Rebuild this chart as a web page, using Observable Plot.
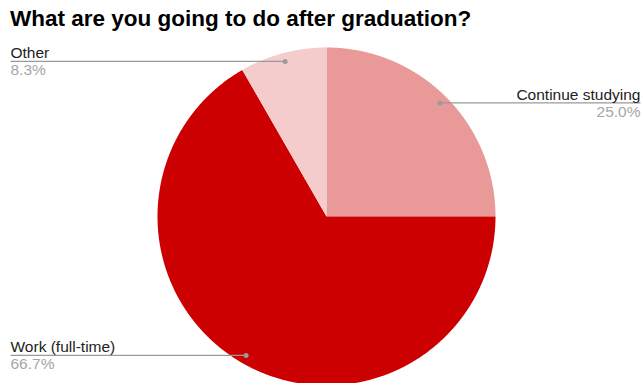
<!DOCTYPE html>
<html><head><meta charset="utf-8">
<script src="https://cdn.jsdelivr.net/npm/d3@7"></script>
<script src="https://cdn.jsdelivr.net/npm/@observablehq/plot@0.6"></script>
<style>
html,body{margin:0;padding:0;background:#fff;overflow:hidden;width:641px;height:383px}
#title{height:34px;padding:6px 0 0 10px;font:bold 22.5px "Liberation Sans",Arial,sans-serif;color:#000;white-space:nowrap;line-height:normal}
#chart svg{display:block}
</style></head><body>
<div id="title">What are you going to do after graduation?</div>
<div id="chart"></div>
<script>
const categories = ["Continue studying", "Work (full-time)", "Other"];
const shares = [25.0, 66.7, 8.3];
const shareLabels = ["25.0%", "66.7%", "8.3%"];
const colors = ["#ea9999", "#cc0000", "#f4cccc"];

const W = 641, H = 343, CX = 326, CY = 176, R = 169;
const LEFT = 10, RIGHT = 640;

const arcs = d3.pie().sort(null).value(d => d)(shares);
const slicePts = [];
arcs.forEach((p, i) => {
  const cat = categories[i];
  slicePts.push({cat, x: 0, y: 0});
  const n = Math.max(2, Math.ceil((p.endAngle - p.startAngle) / 0.005));
  for (let k = 0; k <= n; k++) {
    const a = p.startAngle + (p.endAngle - p.startAngle) * k / n;
    slicePts.push({cat, x: Math.sin(a), y: Math.cos(a)});
  }
});

const xL = (LEFT - CX) / R, xR = (RIGHT - CX) / R;
const labels = arcs.map((p, i) => {
  const m = (p.startAngle + p.endAngle) / 2;
  const dx = 0.95 * Math.sin(m), dy = 0.95 * Math.cos(m);
  const right = Math.sin(m) > 0;
  return {cat: categories[i], pct: shareLabels[i], dx, dy, ex: right ? xR : xL, anchor: right ? "end" : "start"};
});

const FONT = "'Liberation Sans', Arial, sans-serif";
const FS = 15.5;
const chart = Plot.plot({
  width: W, height: H,
  margin: 0,
  style: {fontFamily: FONT, fontSize: FS + "px", background: "#fff"},
  x: {domain: [-CX / R, (W - CX) / R], axis: null},
  y: {domain: [-(H - CY) / R, CY / R], axis: null},
  color: {domain: categories, range: colors},
  marks: [
    Plot.line(slicePts, {x: "x", y: "y", z: "cat", fill: "cat", stroke: null, curve: "linear-closed"}),
    Plot.link(labels, {x1: "dx", y1: "dy", x2: "ex", y2: "dy", stroke: "#9a9a9a", strokeWidth: 1.2}),
    Plot.dot(labels, {x: "dx", y: "dy", r: 2.5, fill: "#9a9a9a", stroke: null}),
    Plot.text(labels.filter(d => d.anchor === "start"), {x: "ex", y: "dy", text: "cat", textAnchor: "start", lineAnchor: "bottom", dy: -3, fill: "#222", fontSize: FS}),
    Plot.text(labels.filter(d => d.anchor === "end"), {x: "ex", y: "dy", text: "cat", textAnchor: "end", lineAnchor: "bottom", dy: -3, fill: "#222", fontSize: FS}),
    Plot.text(labels.filter(d => d.anchor === "start"), {x: "ex", y: "dy", text: "pct", textAnchor: "start", lineAnchor: "top", dy: 3, fill: "#a6a6a6", fontSize: FS}),
    Plot.text(labels.filter(d => d.anchor === "end"), {x: "ex", y: "dy", text: "pct", textAnchor: "end", lineAnchor: "top", dy: 3, fill: "#a6a6a6", fontSize: FS})
  ]
});
document.getElementById("chart").appendChild(chart);
</script>
</body></html>
